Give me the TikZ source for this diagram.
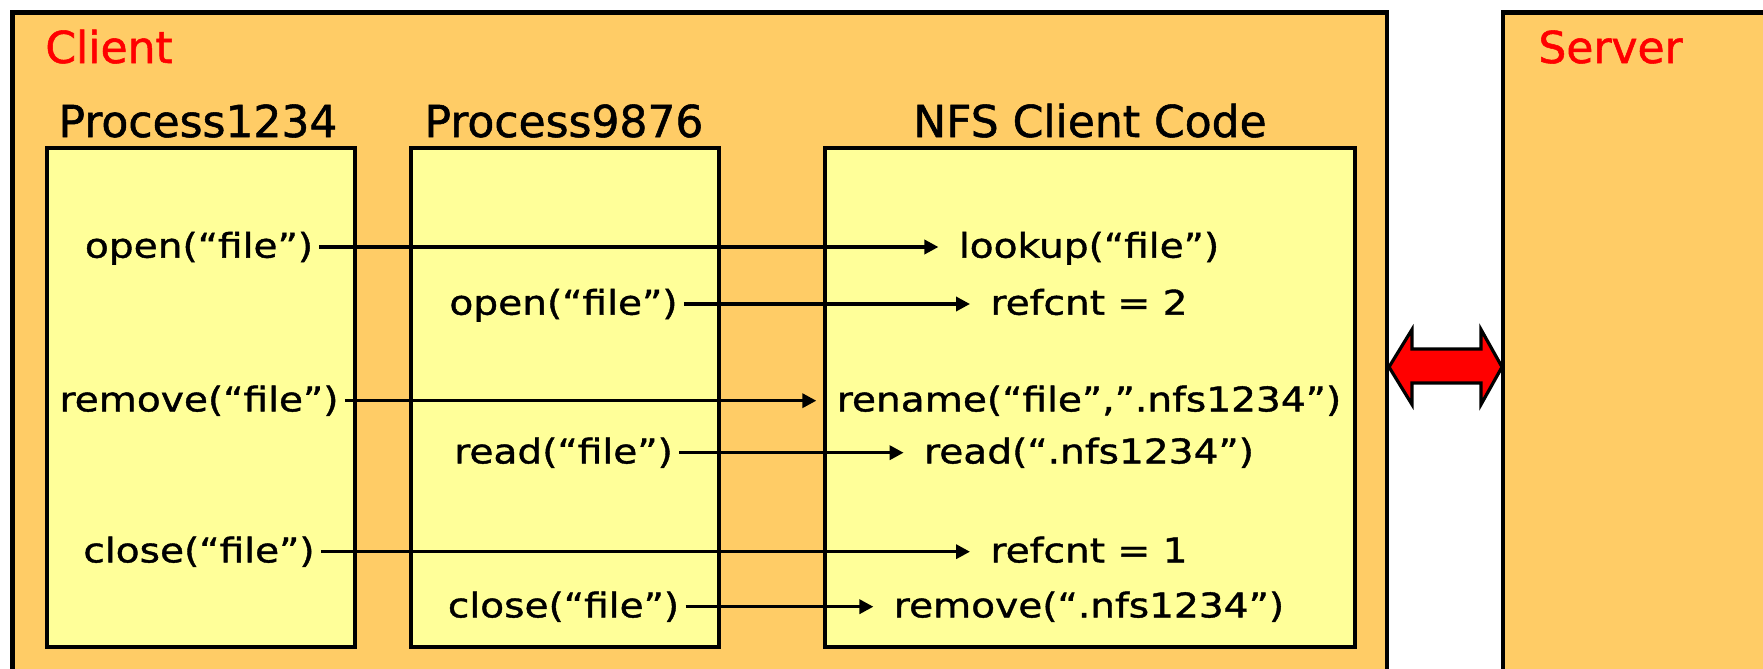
\documentclass[tikz,border=0pt]{standalone}
\usepackage{fontspec}
\setmainfont[FakeBold=1.2]{DejaVu Sans}
\newfontfamily\bodyfont[FakeStretch=1.15,FakeBold=1.2]{DejaVu Sans}
\usetikzlibrary{arrows.meta}
\definecolor{clientbg}{RGB}{255,204,102}
\definecolor{procbg}{RGB}{255,255,153}
\definecolor{labelred}{RGB}{255,0,0}
\begin{document}
\begin{tikzpicture}[x=0.5pt,y=-0.5pt,
  outerbox/.style={draw=black, line width=2.2pt, fill=clientbg},
  procbox/.style={draw=black, line width=2pt, fill=procbg},
  header/.style={inner sep=0pt, anchor=base, font=\fontsize{22}{26}\selectfont},
  sidelabel/.style={header, anchor=base west, text=labelred},
  call/.style={inner sep=0pt, font=\bodyfont\fontsize{17}{20}\selectfont, text height=12.9pt, text depth=2.2pt},
  conn/.style={line width=1.7pt, -{Triangle[length=7pt,width=7pt]}, shorten <=3pt, shorten >=10pt},
  linkarrow/.style={draw=black, line width=1.6pt, fill=labelred, line join=miter, miter limit=10},
]
\useasboundingbox (0,0) rectangle (1763,669);
\fill[white] (0,0) rectangle (1763,669);
\clip (0,0) rectangle (1763,669);

% outer boxes
\draw[outerbox] (12.6,12.3) rectangle (1387,720);
\draw[outerbox] (1503,12.3) rectangle (1820,720);

% process boxes
\draw[procbox] (46.5,148.3) rectangle (355,646.7);
\draw[procbox] (411,148.3) rectangle (718.7,646.7);
\draw[procbox] (824.5,148.3) rectangle (1355,646.7);

% labels
\node[sidelabel] (lclient) at (45,63) {Client};
\node[sidelabel] (lserver) at (1538,63) {Server};
\node[header] (hp1) at (198,137) {Process1234};
\node[header] (hp2) at (564,137) {Process9876};
\node[header] (hnfs) at (1090,137) {NFS Client Code};

% calls
\node[call] (o1) at (199,247) {open(“file”)};
\node[call] (lk) at (1089,247) {lookup(“file”)};
\node[call] (o2) at (563.5,304) {open(“file”)};
\node[call] (rc2) at (1089,304) {refcnt = 2};
\node[call] (rm1) at (199,400.7) {remove(“file”)};
\node[call] (rn) at (1089,400.7) {rename(“file”,”.nfs1234”)};
\node[call] (rd2) at (563.5,452.7) {read(“file”)};
\node[call] (rdn) at (1089,452.7) {read(“.nfs1234”)};
\node[call] (c1) at (199,551.7) {close(“file”)};
\node[call] (rc1) at (1089,551.7) {refcnt = 1};
\node[call] (c2) at (563.5,606.7) {close(“file”)};
\node[call] (rmn) at (1089,606.7) {remove(“.nfs1234”)};

% connectors
\draw[conn] (o1.east) -- (o1.east -| lk.west);
\draw[conn] (o2.east) -- (o2.east -| rc2.west);
\draw[conn] (rm1.east) -- (rm1.east -| rn.west);
\draw[conn] (rd2.east) -- (rd2.east -| rdn.west);
\draw[conn] (c1.east) -- (c1.east -| rc1.west);
\draw[conn] (c2.east) -- (c2.east -| rmn.west);

% client <-> server double arrow
\draw[linkarrow] (1389,367) -- (1412,329.5) -- (1412,349) -- (1481,349) -- (1481,329.5)
  -- (1502,367) -- (1481,404.5) -- (1481,383) -- (1412,383) -- (1412,404.5) -- cycle;
\end{tikzpicture}
\end{document}
